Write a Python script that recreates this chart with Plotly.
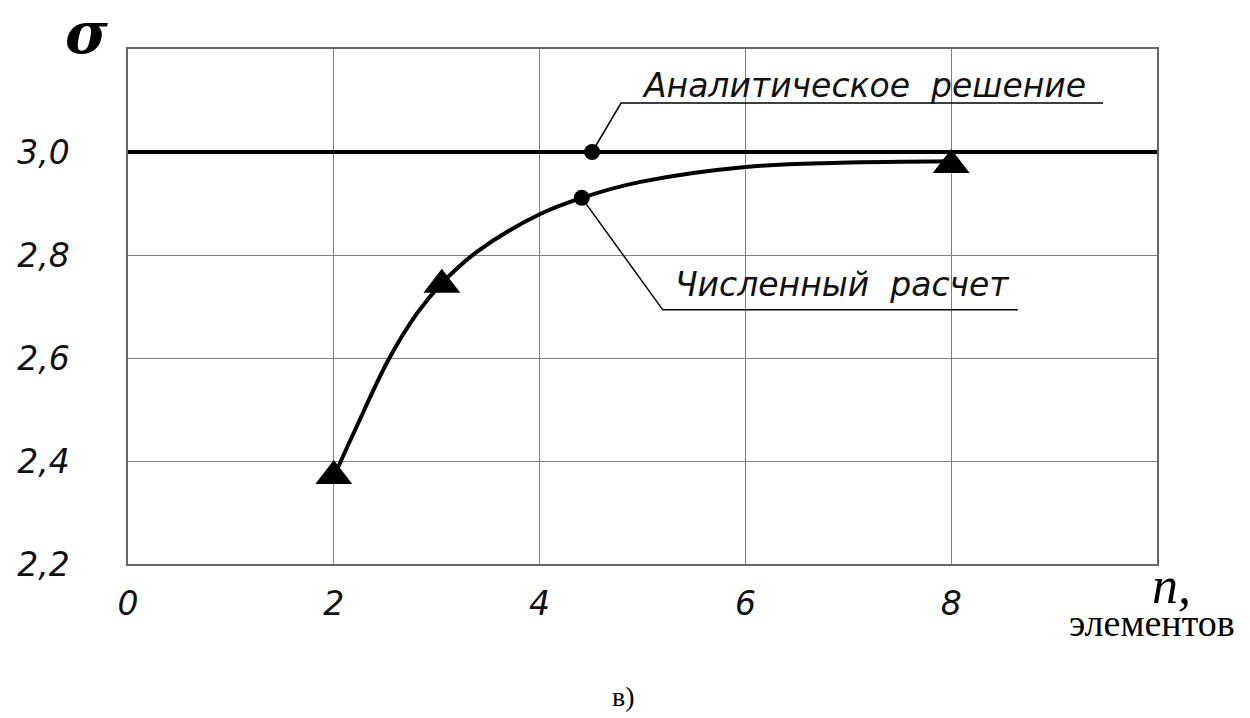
import plotly.graph_objects as go

# ---- data ----
x_tick_vals = [0, 2, 4, 6, 8]
x_tick_text = ["0", "2", "4", "6", "8"]
y_tick_vals = [2.2, 2.4, 2.6, 2.8, 3.0]
y_tick_text = ["2,2", "2,4", "2,6", "2,8", "3,0"]

analytic_x = [0, 10]
analytic_y = [3.0, 3.0]

curve_x = [2.02, 2.22, 2.53, 2.81, 3.05, 3.39, 4.0, 4.41, 4.98, 6.0, 6.92, 8.0]
curve_y = [2.378, 2.466, 2.596, 2.687, 2.745, 2.806, 2.879, 2.911, 2.942, 2.971, 2.979, 2.982]

tri_x = [2.0, 3.05, 8.0]
tri_y = [2.371, 2.742, 2.975]

analytic_dot_x = [4.51]
analytic_dot_y = [3.0]
numeric_dot_x = [4.41]
numeric_dot_y = [2.911]

label_analytic = "Аналитическое  решение"
label_numeric = "Численный  расчет"
x_title = ("<span style='font-size:52px'>&nbsp;&nbsp;&nbsp;<i>n,</i></span><br>"
           "<span style='font-size:38px'>элементов</span>")

TXT = dict(family="DejaVu Sans", size=33, color="#111", style="italic", weight=200)

fig = go.Figure()
fig.add_trace(go.Scatter(x=analytic_x, y=analytic_y, mode="lines",
                         line=dict(color="black", width=4), cliponaxis=False, hoverinfo="skip"))
fig.add_trace(go.Scatter(x=curve_x, y=curve_y, mode="lines",
                         line=dict(color="black", width=4, shape="spline", smoothing=1.0), hoverinfo="skip"))
fig.add_trace(go.Scatter(x=tri_x, y=tri_y, mode="markers",
                         marker=dict(symbol="triangle-up", size=32, color="black"), cliponaxis=False))
fig.add_trace(go.Scatter(x=analytic_dot_x + numeric_dot_x, y=analytic_dot_y + numeric_dot_y, mode="markers",
                         marker=dict(symbol="circle", size=16, color="black")))

# leader lines (pixel offsets anchored at the dots)
def leader(ax, ay, pts):
    path = "M " + " L ".join(f"{px},{py}" for px, py in pts)
    fig.add_shape(type="path", xref="x", yref="y", xsizemode="pixel", ysizemode="pixel",
                  xanchor=ax, yanchor=ay, path=path, line=dict(color="black", width=1.5))

leader(analytic_dot_x[0], analytic_dot_y[0], [(0, 0), (29, 49), (511, 49)])
leader(numeric_dot_x[0], numeric_dot_y[0], [(0, 0), (81, -112), (436, -112)])

fig.add_annotation(x=analytic_dot_x[0], y=analytic_dot_y[0], xref="x", yref="y",
                   text=label_analytic, showarrow=False, xanchor="left", yanchor="middle",
                   xshift=48, yshift=67, font=TXT)
fig.add_annotation(x=numeric_dot_x[0], y=numeric_dot_y[0], xref="x", yref="y",
                   text=label_numeric, showarrow=False, xanchor="left", yanchor="middle",
                   xshift=91, yshift=-87, font=TXT)

fig.add_annotation(x=-0.0408, y=1.0, xref="paper", yref="paper", text="σ", showarrow=False,
                   xanchor="center", yanchor="bottom", yshift=-20,
                   font=dict(family="DejaVu Serif", size=58, color="black", style="italic", weight="bold"))
fig.add_annotation(x=0.995, y=-0.0718, xref="paper", yref="paper", text=x_title, showarrow=False,
                   xanchor="center", yanchor="middle", align="center",
                   font=dict(family="Liberation Serif", size=25, color="black"))
fig.add_annotation(x=0.482, y=-0.258, xref="paper", yref="paper", text="в)", showarrow=False,
                   xanchor="center", yanchor="middle",
                   font=dict(family="Liberation Serif", size=28, color="black"))

fig.update_layout(
    width=1250, height=718,
    margin=dict(l=128, r=93, t=49, b=154),
    paper_bgcolor="white", plot_bgcolor="white",
    showlegend=False,
)
fig.update_xaxes(range=[0, 10], tickvals=x_tick_vals, ticktext=x_tick_text,
                 showgrid=True, gridcolor="#808080", gridwidth=1.2, zeroline=False,
                 showline=True, linecolor="#666", linewidth=1.5, mirror=True,
                 ticks="", ticklabelstandoff=10, tickfont=TXT)
fig.update_yaxes(range=[2.2, 3.2], tickvals=y_tick_vals, ticktext=y_tick_text,
                 showgrid=True, gridcolor="#808080", gridwidth=1.2, zeroline=False,
                 showline=True, linecolor="#666", linewidth=1.5, mirror=True,
                 ticks="", ticklabelstandoff=50, tickfont=TXT)

fig.write_html("out.html")
